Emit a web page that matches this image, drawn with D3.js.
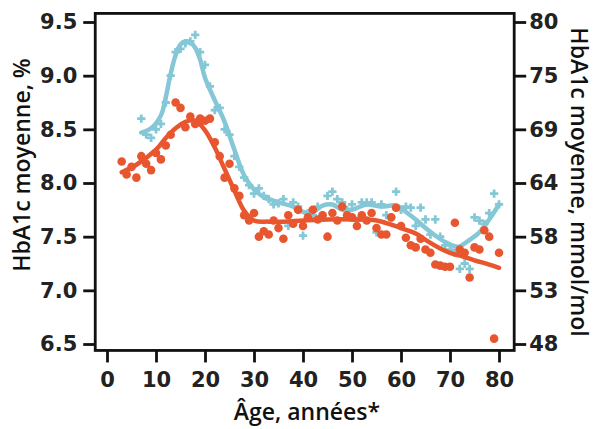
<!DOCTYPE html>
<html><head><meta charset="utf-8">
<script src="https://cdn.jsdelivr.net/npm/d3@7"></script>
<style>body{margin:0;background:#fff}svg{display:block}</style>
</head><body>
<svg id="c" width="595" height="429"></svg>
<script>
const xTicks = [0,10,20,30,40,50,60,70,80];
const yTicks = [6.5,7.0,7.5,8.0,8.5,9.0,9.5];
const yRightLabels = ["48","53","58","64","69","75","80"];

const redAges = [3,4,5,6,7,8,9,10,11,12,13,14,15,16,17,18,19,20,21,22,23,24,25,26,27,28,29,30,31,32,33,34,35,36,37,38,39,40,41,42,43,44,45,46,47,48,49,50,51,52,53,54,55,56,57,58,59,60,61,62,63,64,65,66,67,68,69,70,71,72,73,74,75,76,77,78,79,80];
const redVals = [8.20,8.08,8.15,8.05,8.25,8.18,8.12,8.28,8.22,8.35,8.45,8.75,8.70,8.52,8.62,8.55,8.60,8.58,8.60,8.38,8.25,8.05,8.18,7.95,7.88,7.70,7.65,7.72,7.50,7.55,7.52,7.65,7.58,7.48,7.70,7.62,7.75,7.60,7.68,7.75,7.66,7.70,7.50,7.72,7.65,7.78,7.70,7.68,7.60,7.70,7.65,7.72,7.58,7.52,7.52,7.68,7.77,7.60,7.49,7.42,7.40,7.48,7.38,7.35,7.24,7.23,7.22,7.22,7.63,7.38,7.35,7.12,7.40,7.38,7.56,7.50,6.55,7.35];

const blueAges = [7,8,9,10,11,12,13,14,15,16,17,18,19,20,21,22,23,24,25,26,27,28,29,30,31,32,33,34,35,36,37,38,39,40,41,42,43,44,45,46,47,48,49,50,51,52,53,54,55,56,57,58,59,60,61,62,63,64,65,66,67,68,69,70,71,72,73,74,75,76,77,78,79,80];
const blueVals = [8.60,8.45,8.42,8.50,8.55,8.75,9.00,9.22,9.25,9.30,9.32,9.38,9.22,9.10,8.90,8.68,8.70,8.50,8.45,8.25,8.15,8.05,7.98,7.90,7.95,7.88,7.85,7.80,7.81,7.85,7.60,7.82,7.78,7.51,7.72,7.70,7.78,7.70,7.88,7.92,7.85,7.82,7.75,7.80,7.65,7.82,7.82,7.82,7.54,7.80,7.70,7.68,7.92,7.75,7.78,7.77,7.60,7.77,7.66,7.52,7.66,7.50,7.42,7.38,7.35,7.20,7.25,7.20,7.68,7.65,7.62,7.72,7.90,7.80];

const redFitAges = [3,6,10,12,14,16,18,20,22,24,26,28,30,33,36,40,45,50,55,60,63,65,68,70,73,75,78,80];
const redFitVals = [8.10,8.17,8.31,8.42,8.51,8.57,8.58,8.49,8.33,8.13,7.93,7.74,7.65,7.64,7.64,7.65,7.66,7.66,7.65,7.58,7.53,7.47,7.39,7.35,7.31,7.28,7.24,7.21];

const blueFitAges = [7,9,11,12,13,14,15,16,17,18,19,20,22,24,26,28,30,32,35,38,40,42,44,46,48,50,53,56,59,61,63,65,67,69,71,72,74,76,78,80];
const blueFitVals = [8.47,8.51,8.63,8.80,9.02,9.19,9.29,9.32,9.31,9.26,9.15,8.98,8.77,8.57,8.31,8.07,7.94,7.87,7.82,7.78,7.73,7.73,7.79,7.80,7.75,7.75,7.80,7.78,7.79,7.73,7.66,7.58,7.51,7.45,7.41,7.41,7.47,7.54,7.66,7.80];

const RED = "#e8562f", BLUE = "#84c7d6";
const svg = d3.select("#c");
const x = d3.scaleLinear().domain([0,80]).range([107,499]);
const y = d3.scaleLinear().domain([6.5,9.5]).range([344,22]);
const X0 = x(-2.4), X1 = x(83.1), Y0 = y(6.44), Y1 = y(9.58);

const line = d3.line().x(d=>x(d[0])).y(d=>y(d[1])).curve(d3.curveCatmullRom.alpha(0.5));
const g = svg.append("g");
const plus = d3.symbol().type(d3.symbolCross).size(38);
g.selectAll(".bp").data(blueAges.map((a,i)=>[a,blueVals[i]])).join("path")
  .attr("d",plus).attr("transform",d=>`translate(${x(d[0])},${y(d[1])})`).attr("fill",BLUE);
g.append("path").datum(blueFitAges.map((a,i)=>[a,blueFitVals[i]])).attr("d",line)
  .attr("fill","none").attr("stroke",BLUE).attr("stroke-width",4.5).attr("stroke-linecap","round");
g.selectAll(".rp").data(redAges.map((a,i)=>[a,redVals[i]])).join("circle")
  .attr("cx",d=>x(d[0])).attr("cy",d=>y(d[1])).attr("r",4.3).attr("fill",RED);
g.append("path").datum(redFitAges.map((a,i)=>[a,redFitVals[i]])).attr("d",line)
  .attr("fill","none").attr("stroke",RED).attr("stroke-width",4.5).attr("stroke-linecap","round");

svg.append("rect").attr("x",X0).attr("y",Y1).attr("width",X1-X0).attr("height",Y0-Y1)
  .attr("fill","none").attr("stroke","#111").attr("stroke-width",2.8);

const tickFont = "'DejaVu Sans', sans-serif";
const ax = svg.append("g").attr("transform",`translate(0,${Y0})`)
  .call(d3.axisBottom(x).tickValues(xTicks).tickSize(12).tickSizeOuter(0).tickFormat(d3.format("d")));
const ayl = svg.append("g").attr("transform",`translate(${X0},0)`)
  .call(d3.axisLeft(y).tickValues(yTicks).tickSize(12).tickSizeOuter(0).tickFormat(d3.format(".1f")));
const ayr = svg.append("g").attr("transform",`translate(${X1},0)`)
  .call(d3.axisRight(y).tickValues(yTicks).tickSize(12).tickSizeOuter(0).tickFormat((d,i)=>yRightLabels[i]));
[ax,ayl,ayr].forEach(a=>{
  a.select(".domain").remove();
  a.selectAll("line").attr("stroke","#111").attr("stroke-width",2.8);
  a.selectAll("text").attr("fill","#222").style("font-family",tickFont).style("font-weight","bold").style("font-size","21px");
});
ax.selectAll("text").attr("dy","0.71em").attr("y",22);
ayl.selectAll("text").attr("x",-18);
ayr.selectAll("text").attr("x",15);

const titleFont = "'Open Sans', 'Noto Sans', sans-serif";
svg.append("text").attr("x",307).attr("y",420).attr("text-anchor","middle")
  .style("font-family",titleFont).style("font-weight","600").style("font-size","23px").attr("fill","#111").text("Âge, années*");
svg.append("text").attr("transform","translate(30,165) rotate(-90)").attr("text-anchor","middle")
  .style("font-family",titleFont).style("font-weight","600").style("font-size","23px").attr("fill","#111").text("HbA1c moyenne, %");
svg.append("text").attr("transform","translate(571,182) rotate(90)").attr("text-anchor","middle")
  .style("font-family",titleFont).style("font-weight","600").style("font-size","23px").attr("fill","#111").text("HbA1c moyenne, mmol/mol");
</script>
</body></html>
